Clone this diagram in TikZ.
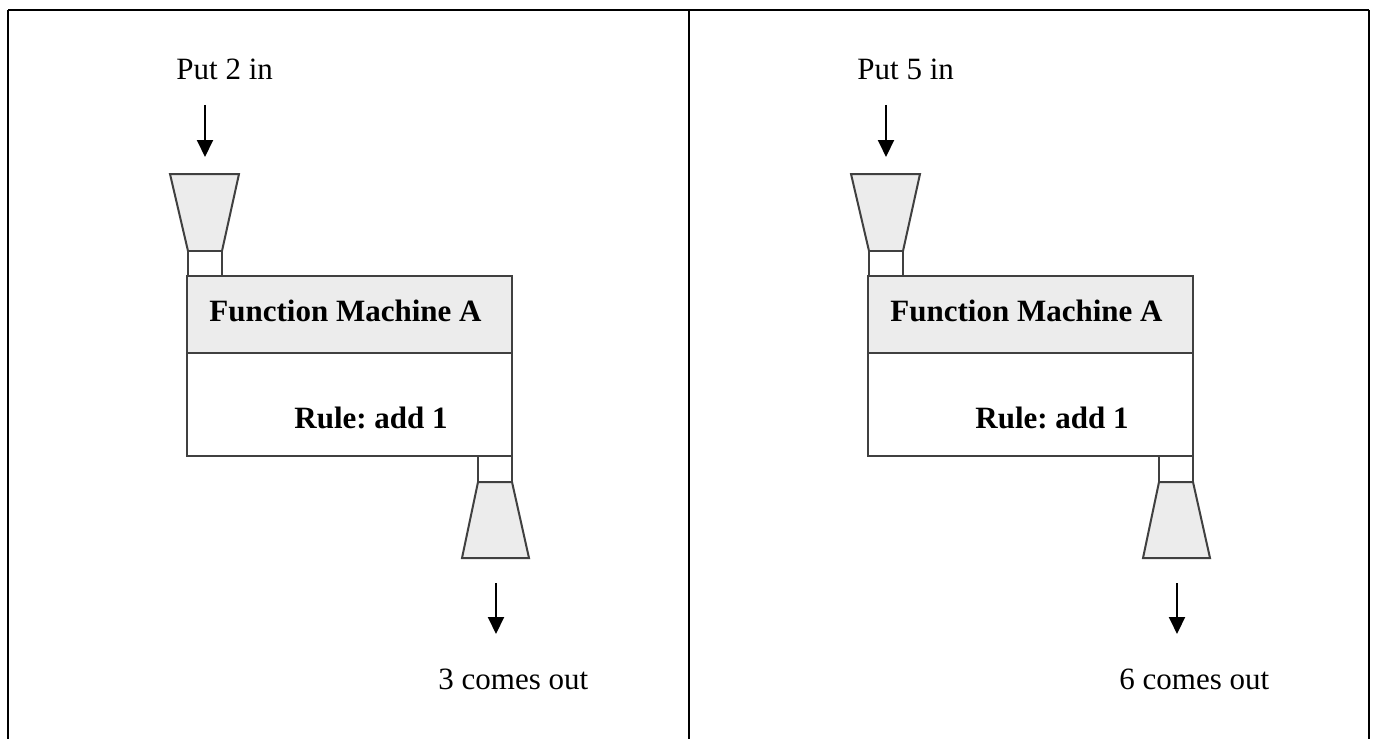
\documentclass[tikz,border=0pt]{standalone}
\usepackage{fontspec}
\setmainfont{Liberation Serif}
\usetikzlibrary{arrows.meta}
\frenchspacing

\begin{document}
\begin{tikzpicture}[x=0.5pt,y=-0.5pt,
  pieza/.style={draw=black!75, line width=1pt, fill=#1},
  pieza/.default=white,
  flecha/.style={-{Triangle[width=8pt,length=8.5pt]}, line width=1pt},
  etiqueta/.style={anchor=base west, inner sep=0pt, font=\fontsize{15.5}{18}\selectfont},
  negrita/.style={etiqueta, font=\fontsize{15.5}{18}\selectfont\bfseries}]
\useasboundingbox (0,0) rectangle (1374,738);

% Marco de la tabla
\draw[line width=1.4pt] (8,10) -- (1369,10);
\foreach \x in {8,689,1369}
  \draw[line width=1.4pt] (\x,10) -- (\x,760);

% Las dos maquinas (entrada / salida)
\foreach \d/\ent/\sal [count=\i] in {0/2/3, 681/5/6} {
  \begin{scope}[shift={(\d,0)}]
  % Entrada
  \node[etiqueta] (entra\i) at (176,80) {Put \ent{} in};
  \coordinate (arribaA\i) at (205,105);
  \coordinate (abajoA\i) at (205,157);
  \draw[flecha] (arribaA\i) -- (abajoA\i);

  % Embudo de entrada
  \draw[pieza=gray!15] (170,174) -- (239,174) -- (222,251) -- (188,251) -- cycle;
  \draw[pieza] (188,251) rectangle (222,276);

  % Cuerpo de la maquina
  \draw[pieza=gray!15] (187,276) rectangle (512,353);
  \draw[pieza] (187,353) rectangle (512,456);
  \node[negrita] (titulo\i) at (209,321) {Function Machine A};
  \node[negrita] (regla\i) at (294,428) {Rule: add 1};

  % Embudo de salida
  \draw[pieza] (478,456) rectangle (512,482);
  \draw[pieza=gray!15] (478,482) -- (512,482) -- (529,558) -- (462,558) -- cycle;

  % Salida
  \coordinate (arribaB\i) at (496,583);
  \coordinate (abajoB\i) at (496,634);
  \draw[flecha] (arribaB\i) -- (abajoB\i);
  \node[etiqueta] (sale\i) at (438,689) {\sal{} comes out};
  \end{scope}
}
\end{tikzpicture}
\end{document}
